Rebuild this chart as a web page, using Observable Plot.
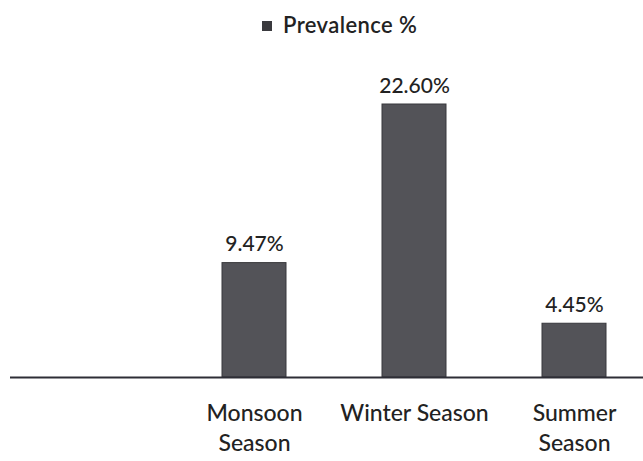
<!DOCTYPE html>
<html>
<head>
<meta charset="utf-8">
<script src="https://cdn.jsdelivr.net/npm/d3@7"></script>
<script src="https://cdn.jsdelivr.net/npm/@observablehq/plot@0.6"></script>
<style>
  body { margin: 0; background: #fff; font-family: Lato, "Open Sans", sans-serif; }
  #legend { height: 50px; position: relative; }
  #legend .sw { position: absolute; left: 262px; top: 21px; width: 10px; height: 10px; background: #3a3a3e; }
  #legend .lb { position: absolute; left: 283px; top: 13px; font-size: 22px; color: #222; font-weight: 600; line-height: 24px; letter-spacing: 0.4px; }
</style>
</head>
<body>
<div id="legend"><span class="sw"></span><span class="lb">Prevalence %</span></div>
<div id="chart"></div>
<script>
const categories = [" ", "Monsoon Season", "Winter Season", "Summer Season"];
const tickLabels = ["", "Monsoon\nSeason", "Winter Season", "Summer\nSeason"];
const seriesName = "Prevalence %";
const values = [null, 9.47, 22.60, 4.45];
const valueLabels = ["", "9.47%", "22.60%", "4.45%"];

const data = categories.map((c, i) => ({cat: c, value: values[i], label: valueLabels[i]}));
const bars = data.filter(d => d.value != null);

const chart = Plot.plot({
  width: 643,
  height: 411,
  marginLeft: 10,
  marginRight: 0,
  marginTop: 0,
  marginBottom: 84,
  style: {fontFamily: "Lato, 'Open Sans', sans-serif", color: "#222", background: "white"},
  x: {domain: categories, range: [14, 654], paddingInner: 0.6, paddingOuter: 0.3, align: 0.5},
  y: {domain: [0, 22.6], range: [327, 54], axis: null},
  marks: [
    Plot.barY(bars, {x: "cat", y: "value", fill: "#535358", stroke: "#38383c", strokeWidth: 1}),
    Plot.text(bars, {x: "cat", y: "value", text: "label", dy: -12, lineAnchor: "bottom", fontSize: 21, fill: "#222", fontWeight: 500}),
    Plot.ruleY([0], {stroke: "#2e2e36", strokeWidth: 2}),
    Plot.axisX({tickSize: 0, tickPadding: 22, fontSize: 23, lineHeight: 1.3, lineAnchor: "top", fill: "#222", fontWeight: 500,
      tickFormat: (d) => tickLabels[categories.indexOf(d)], label: null})
  ]
});
document.getElementById("chart").appendChild(chart);
</script>
</body>
</html>
